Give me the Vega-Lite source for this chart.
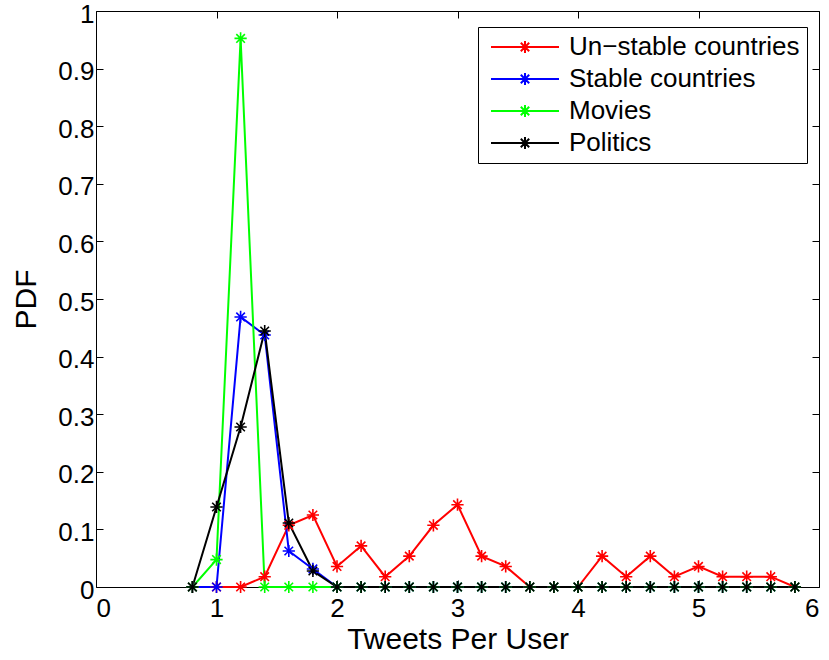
{
  "$schema": "https://vega.github.io/schema/vega-lite/v6.json",
  "width": 723,
  "height": 576,
  "autosize": {"type": "none"},
  "padding": {"left": 96, "top": 11, "right": 10, "bottom": 73},
  "background": "white",
  "config": {
    "font": "Liberation Sans",
    "view": {"stroke": "black", "strokeWidth": 1},
    "axis": {"grid": false, "domain": false, "tickColor": "black", "tickWidth": 1, "labelColor": "black", "titleColor": "black", "labelFont": "Liberation Sans", "titleFont": "Liberation Sans", "labelFontSize": 26, "titleFontSize": 30, "titleFontWeight": "normal"}
  },
  "data": {"values": [
    {"series": "Un−stable countries", "x": 0.8, "y": 0},
    {"series": "Un−stable countries", "x": 1.0, "y": 0},
    {"series": "Un−stable countries", "x": 1.2, "y": 0},
    {"series": "Un−stable countries", "x": 1.4, "y": 0.0179},
    {"series": "Un−stable countries", "x": 1.6, "y": 0.1071},
    {"series": "Un−stable countries", "x": 1.8, "y": 0.125},
    {"series": "Un−stable countries", "x": 2.0, "y": 0.0357},
    {"series": "Un−stable countries", "x": 2.2, "y": 0.0714},
    {"series": "Un−stable countries", "x": 2.4, "y": 0.0179},
    {"series": "Un−stable countries", "x": 2.6, "y": 0.0536},
    {"series": "Un−stable countries", "x": 2.8, "y": 0.1071},
    {"series": "Un−stable countries", "x": 3.0, "y": 0.1429},
    {"series": "Un−stable countries", "x": 3.2, "y": 0.0536},
    {"series": "Un−stable countries", "x": 3.4, "y": 0.0357},
    {"series": "Un−stable countries", "x": 3.6, "y": 0},
    {"series": "Un−stable countries", "x": 3.8, "y": 0},
    {"series": "Un−stable countries", "x": 4.0, "y": 0},
    {"series": "Un−stable countries", "x": 4.2, "y": 0.0536},
    {"series": "Un−stable countries", "x": 4.4, "y": 0.0179},
    {"series": "Un−stable countries", "x": 4.6, "y": 0.0536},
    {"series": "Un−stable countries", "x": 4.8, "y": 0.0179},
    {"series": "Un−stable countries", "x": 5.0, "y": 0.0357},
    {"series": "Un−stable countries", "x": 5.2, "y": 0.0179},
    {"series": "Un−stable countries", "x": 5.4, "y": 0.0179},
    {"series": "Un−stable countries", "x": 5.6, "y": 0.0179},
    {"series": "Un−stable countries", "x": 5.8, "y": 0},
    {"series": "Stable countries", "x": 0.8, "y": 0},
    {"series": "Stable countries", "x": 1.0, "y": 0},
    {"series": "Stable countries", "x": 1.2, "y": 0.4688},
    {"series": "Stable countries", "x": 1.4, "y": 0.4375},
    {"series": "Stable countries", "x": 1.6, "y": 0.0625},
    {"series": "Stable countries", "x": 1.8, "y": 0.0313},
    {"series": "Stable countries", "x": 2.0, "y": 0},
    {"series": "Stable countries", "x": 2.2, "y": 0},
    {"series": "Stable countries", "x": 2.4, "y": 0},
    {"series": "Stable countries", "x": 2.6, "y": 0},
    {"series": "Stable countries", "x": 2.8, "y": 0},
    {"series": "Stable countries", "x": 3.0, "y": 0},
    {"series": "Stable countries", "x": 3.2, "y": 0},
    {"series": "Stable countries", "x": 3.4, "y": 0},
    {"series": "Stable countries", "x": 3.6, "y": 0},
    {"series": "Stable countries", "x": 3.8, "y": 0},
    {"series": "Stable countries", "x": 4.0, "y": 0},
    {"series": "Stable countries", "x": 4.2, "y": 0},
    {"series": "Stable countries", "x": 4.4, "y": 0},
    {"series": "Stable countries", "x": 4.6, "y": 0},
    {"series": "Stable countries", "x": 4.8, "y": 0},
    {"series": "Stable countries", "x": 5.0, "y": 0},
    {"series": "Stable countries", "x": 5.2, "y": 0},
    {"series": "Stable countries", "x": 5.4, "y": 0},
    {"series": "Stable countries", "x": 5.6, "y": 0},
    {"series": "Stable countries", "x": 5.8, "y": 0},
    {"series": "Movies", "x": 0.8, "y": 0},
    {"series": "Movies", "x": 1.0, "y": 0.0476},
    {"series": "Movies", "x": 1.2, "y": 0.9524},
    {"series": "Movies", "x": 1.4, "y": 0},
    {"series": "Movies", "x": 1.6, "y": 0},
    {"series": "Movies", "x": 1.8, "y": 0},
    {"series": "Movies", "x": 2.0, "y": 0},
    {"series": "Movies", "x": 2.2, "y": 0},
    {"series": "Movies", "x": 2.4, "y": 0},
    {"series": "Movies", "x": 2.6, "y": 0},
    {"series": "Movies", "x": 2.8, "y": 0},
    {"series": "Movies", "x": 3.0, "y": 0},
    {"series": "Movies", "x": 3.2, "y": 0},
    {"series": "Movies", "x": 3.4, "y": 0},
    {"series": "Movies", "x": 3.6, "y": 0},
    {"series": "Movies", "x": 3.8, "y": 0},
    {"series": "Movies", "x": 4.0, "y": 0},
    {"series": "Movies", "x": 4.2, "y": 0},
    {"series": "Movies", "x": 4.4, "y": 0},
    {"series": "Movies", "x": 4.6, "y": 0},
    {"series": "Movies", "x": 4.8, "y": 0},
    {"series": "Movies", "x": 5.0, "y": 0},
    {"series": "Movies", "x": 5.2, "y": 0},
    {"series": "Movies", "x": 5.4, "y": 0},
    {"series": "Movies", "x": 5.6, "y": 0},
    {"series": "Movies", "x": 5.8, "y": 0},
    {"series": "Politics", "x": 0.8, "y": 0},
    {"series": "Politics", "x": 1.0, "y": 0.1389},
    {"series": "Politics", "x": 1.2, "y": 0.2778},
    {"series": "Politics", "x": 1.4, "y": 0.4444},
    {"series": "Politics", "x": 1.6, "y": 0.1111},
    {"series": "Politics", "x": 1.8, "y": 0.0278},
    {"series": "Politics", "x": 2.0, "y": 0},
    {"series": "Politics", "x": 2.2, "y": 0},
    {"series": "Politics", "x": 2.4, "y": 0},
    {"series": "Politics", "x": 2.6, "y": 0},
    {"series": "Politics", "x": 2.8, "y": 0},
    {"series": "Politics", "x": 3.0, "y": 0},
    {"series": "Politics", "x": 3.2, "y": 0},
    {"series": "Politics", "x": 3.4, "y": 0},
    {"series": "Politics", "x": 3.6, "y": 0},
    {"series": "Politics", "x": 3.8, "y": 0},
    {"series": "Politics", "x": 4.0, "y": 0},
    {"series": "Politics", "x": 4.2, "y": 0},
    {"series": "Politics", "x": 4.4, "y": 0},
    {"series": "Politics", "x": 4.6, "y": 0},
    {"series": "Politics", "x": 4.8, "y": 0},
    {"series": "Politics", "x": 5.0, "y": 0},
    {"series": "Politics", "x": 5.2, "y": 0},
    {"series": "Politics", "x": 5.4, "y": 0},
    {"series": "Politics", "x": 5.6, "y": 0},
    {"series": "Politics", "x": 5.8, "y": 0}
  ]},
  "layer": [
    {
      "mark": {"type": "line", "strokeWidth": 2},
      "encoding": {
        "x": {"field": "x", "type": "quantitative", "scale": {"domain": [0, 6], "nice": false, "zero": false},
              "axis": {"orient": "bottom", "title": "Tweets Per User", "values": [0,1,2,3,4,5,6], "format": "d", "tickSize": -7, "labelPadding": 15, "titlePadding": 3}},
        "y": {"field": "y", "type": "quantitative", "scale": {"domain": [0, 1], "nice": false},
              "axis": {"orient": "left", "title": "PDF", "values": [0,0.1,0.2,0.3,0.4,0.5,0.6,0.7,0.8,0.9,1], "format": "~g", "tickSize": -7, "labelPadding": 9, "labelOffset": 3, "titlePadding": 16}},
        "color": {"field": "series", "type": "nominal",
                  "scale": {"domain": ["Un−stable countries", "Stable countries", "Movies", "Politics"], "range": ["#ff0000", "#0000ff", "#00ff00", "#000000"]},
                  "legend": {"title": null, "orient": "none", "legendX": 382, "legendY": 16,
                             "symbolType": "M-3.4,0L3.4,0M-0.6,0L0.6,0M0,-0.6L0,0.6M-0.42,-0.42L0.42,0.42M-0.42,0.42L0.42,-0.42",
                             "symbolSize": 400, "symbolStrokeWidth": 2, "symbolFillColor": "transparent",
                             "labelFontSize": 26, "labelFont": "Liberation Sans", "labelColor": "black", "labelLimit": 500,
                             "strokeColor": "black", "fillColor": "white", "padding": 7, "rowPadding": 6,
                             "symbolOffset": 27, "labelOffset": 31}}
      }
    },
    {
      "mark": {"type": "point", "filled": false, "strokeWidth": 1.6, "opacity": 1, "size": 150,
               "shape": "M-1,0L1,0M0,-1L0,1M-0.7,-0.7L0.7,0.7M-0.7,0.7L0.7,-0.7"},
      "encoding": {
        "x": {"field": "x", "type": "quantitative", "axis": {"orient": "top", "title": null, "labels": false, "values": [0,1,2,3,4,5,6], "tickSize": -7}},
        "y": {"field": "y", "type": "quantitative", "axis": {"orient": "right", "title": null, "labels": false, "values": [0,0.1,0.2,0.3,0.4,0.5,0.6,0.7,0.8,0.9,1], "tickSize": -7}},
        "color": {"field": "series", "type": "nominal", "legend": null}
      }
    }
  ],
  "resolve": {"axis": {"x": "independent", "y": "independent"}}
}
